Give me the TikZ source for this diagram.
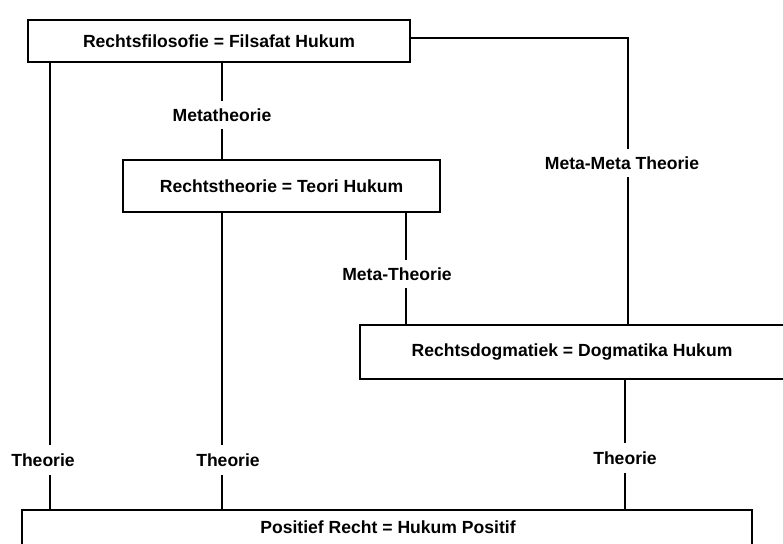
\documentclass[tikz,border=0pt]{standalone}
\usepackage{fontspec}
\setmainfont{Liberation Sans}

\begin{document}
\begin{tikzpicture}[x=0.03cm,y=-0.03cm,
    kotak/.style={draw, line width=1.3pt, inner sep=0pt, font=\fontsize{15}{17}\selectfont\bfseries},
    teks/.style={inner sep=0pt, minimum height=0.84cm, font=\fontsize{15}{17}\selectfont\bfseries},
    garis/.style={line width=1.1pt}]
    \useasboundingbox (0,0) rectangle (783,544);
    \begin{scope}
    \clip (0,0) rectangle (783,544);

    % Kotak-kotak
    \node[kotak, minimum width=11.46cm, minimum height=1.26cm]
        (filsafat) at (219,41) {Rechtsfilosofie = Filsafat Hukum};
    \node[kotak, minimum width=9.51cm, minimum height=1.56cm]
        (teori) at (281.5,186) {Rechtstheorie = Teori Hukum};
    \node[kotak, minimum width=12.72cm, minimum height=1.62cm]
        (dogmatik) at (572,352) {Rechtsdogmatiek = Dogmatika Hukum};
    \node[kotak, minimum width=21.9cm, minimum height=1.92cm]
        (positif) at (387,542) {};
    \node[teks] (positiftext) at (388,527) {Positief Recht = Hukum Positif};

    % Label
    \node[teks] (meta) at (222,115) {Metatheorie};
    \node[teks] (metameta) at (622,163) {Meta-Meta Theorie};
    \node[teks] (metateori) at (397,274) {Meta-Theorie};
    \node[teks, minimum height=0.9cm] (theoriA) at (43,460) {Theorie};
    \node[teks, minimum height=0.9cm] (theoriB) at (228,460) {Theorie};
    \node[teks, minimum height=0.9cm] (theoriC) at (625,458) {Theorie};

    % Garis
    \coordinate (kiri) at (50,0);
    \coordinate (tengah) at (222,0);
    \coordinate (kanan) at (406,0);
    \coordinate (jauh) at (628,0);
    \coordinate (bawah) at (625,0);

    \draw[garis] (filsafat.south -| tengah) -- (meta.north -| tengah);
    \draw[garis] (meta.south -| tengah) -- (teori.north -| tengah);

    \draw[garis] (filsafat.south -| kiri) -- (theoriA.north -| kiri);
    \draw[garis] (theoriA.south -| kiri) -- (positif.north -| kiri);

    \draw[garis] (filsafat.east |- 0,38) -| (metameta.north -| jauh);
    \draw[garis] (metameta.south -| jauh) -- (dogmatik.north -| jauh);

    \draw[garis] (teori.south -| tengah) -- (theoriB.north -| tengah);
    \draw[garis] (theoriB.south -| tengah) -- (positif.north -| tengah);

    \draw[garis] (teori.south -| kanan) -- (metateori.north -| kanan);
    \draw[garis] (metateori.south -| kanan) -- (dogmatik.north -| kanan);

    \draw[garis] (dogmatik.south -| bawah) -- (theoriC.north -| bawah);
    \draw[garis] (theoriC.south -| bawah) -- (positif.north -| bawah);
    \end{scope}
\end{tikzpicture}
\end{document}
